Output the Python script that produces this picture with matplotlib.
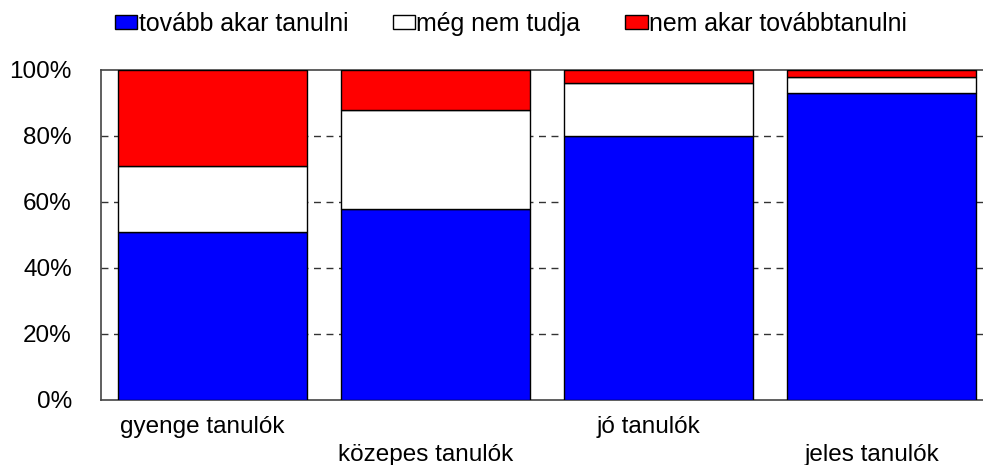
import matplotlib.pyplot as plt
import matplotlib.transforms as mtransforms
import numpy as np

plt.rcParams["font.family"] = ["Liberation Sans", "DejaVu Sans"]

categories = ["gyenge tanulók", "közepes tanulók", "jó tanulók", "jeles tanulók"]
series_names = ["tovább akar tanulni", "még nem tudja", "nem akar továbbtanulni"]
tovabb = [51, 58, 80, 93]
meg_nem = [20, 30, 16, 5]
nem_akar = [29, 12, 4, 2]
colors = ["#0000ff", "#ffffff", "#ff0000"]
yticks = [0, 20, 40, 60, 80, 100]

FS = 17.5

fig = plt.figure(figsize=(9.83, 4.65), dpi=100)
ax = fig.add_axes([0.1027, 0.1398, 0.8973, 0.7097])

x = np.arange(len(categories))
bottom = np.zeros(len(categories))
handles = []
for vals, name, col in zip([tovabb, meg_nem, nem_akar], series_names, colors):
    h = ax.bar(x, vals, width=0.848, bottom=bottom, color=col,
               edgecolor="black", linewidth=1, label=name, zorder=3)
    handles.append(h)
    bottom += np.array(vals)

ax.set_xlim(-0.5, 3.455)
ax.set_ylim(0, 100)
ax.set_yticks(yticks)
ax.set_yticklabels([f"{v}%" for v in yticks], fontsize=FS)
ax.tick_params(axis="y", length=0, pad=21)
ax.set_xticks([])

# dashed grid, only visible in the gaps
for v in yticks[1:-1]:
    ax.axhline(v, color="#333333", linewidth=1, linestyle=(0, (5, 4)), zorder=1)

for side in ["left", "bottom", "top"]:
    ax.spines[side].set_color("#444444")
    ax.spines[side].set_linewidth(1.2)
ax.spines["right"].set_visible(False)

# staggered category labels
trans = mtransforms.blended_transform_factory(ax.transData, ax.transAxes)
for i, cat in enumerate(categories):
    yy = -0.082 if i % 2 == 0 else -0.167
    ax.text(i - 0.045, yy, cat, transform=trans, ha="center", va="center",
            fontsize=FS)

fig.legend(handles=handles, labels=series_names, loc="center left",
           bbox_to_anchor=(115 / 983, 1 - 24 / 465), ncol=3, frameon=False,
           fontsize=17.9, handlelength=0.9, handleheight=0.5,
           handletextpad=0.05, columnspacing=1.8, borderaxespad=0,
           borderpad=0)

fig.savefig("out.png", dpi=100)
